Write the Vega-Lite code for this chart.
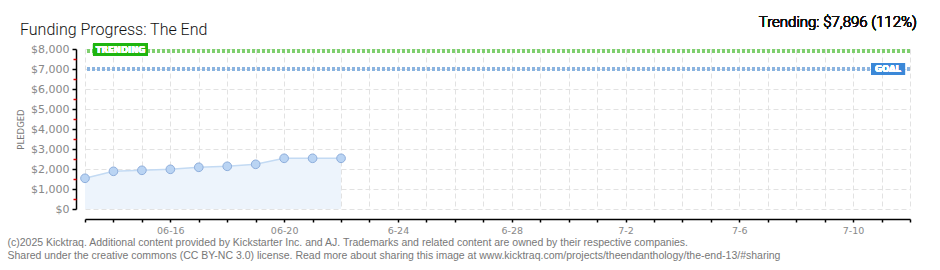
{
  "$schema": "https://vega.github.io/schema/vega-lite/v6.json",
  "width": 825,
  "height": 160,
  "autosize": "none",
  "padding": {"left": 85, "top": 49, "right": 30, "bottom": 61},
  "background": "white",
  "config": {"view": {"stroke": null}, "font": "Liberation Sans"},
  "title": {
    "text": "Funding Progress: The End",
    "anchor": "start",
    "frame": "group",
    "dx": -65,
    "offset": -23,
    "fontSize": 16,
    "font": "Roboto",
    "fontWeight": 300,
    "color": "#111111"
  },
  "datasets": {
    "pledges": [
      {"date": "2025-06-13", "pledged": 1535},
      {"date": "2025-06-14", "pledged": 1885},
      {"date": "2025-06-15", "pledged": 1935},
      {"date": "2025-06-16", "pledged": 1985},
      {"date": "2025-06-17", "pledged": 2085},
      {"date": "2025-06-18", "pledged": 2135},
      {"date": "2025-06-19", "pledged": 2235},
      {"date": "2025-06-20", "pledged": 2535},
      {"date": "2025-06-21", "pledged": 2535},
      {"date": "2025-06-22", "pledged": 2535}
    ]
  },
  "data": {"name": "pledges"},
  "layer": [
    {
      "mark": {"type": "area", "color": "#edf4fc", "opacity": 1, "line": {"color": "#c3daf3", "strokeWidth": 1.5}},
      "encoding": {
        "x": {
          "field": "date", "type": "temporal",
          "scale": {"type": "utc", "domain": [{"year": 2025, "month": 6, "date": 13, "utc": true}, {"year": 2025, "month": 7, "date": 12, "utc": true}]},
          "axis": {
            "tickCount": {"interval": "day", "step": 1},
            "offset": 10,
            "domainColor": "#000000",
            "domainWidth": 1.5,
            "tickColor": "#000000",
            "tickWidth": 1.5,
            "tickSize": 3,
            "labelPadding": 3,
            "labelColor": "#888888",
            "labelFont": "DejaVu Sans",
            "labelFontSize": 9.5,
            "labelOverlap": false,
            "labelFlush": false,
            "labelExpr": "(round((datum.value - 1749772800000) / 86400000) % 4 == 3) ? utcFormat(datum.value, datum.value < 1750500000000 ? '%m-%d' : '%-m-%-d') : ''",
            "grid": true,
            "gridColor": "#e2e2e2",
            "gridDash": [5, 3],
            "title": ["(c)2025 Kicktraq. Additional content provided by Kickstarter Inc. and AJ. Trademarks and related content are owned by their respective companies.", "Shared under the creative commons (CC BY-NC 3.0) license. Read more about sharing this image at www.kicktraq.com/projects/theendanthology/the-end-13/#sharing"],
            "titleX": -78,
            "titleY": 26,
            "titleAlign": "left",
            "titleBaseline": "alphabetic",
            "titleAnchor": "start",
            "titleFontSize": 10.5,
            "titleFontWeight": "normal",
            "titleColor": "#777777",
            "titleLineHeight": 13
          }
        },
        "y": {
          "field": "pledged", "type": "quantitative",
          "scale": {"domain": [0, 8000], "nice": false},
          "axis": {
            "values": [0, 1000, 2000, 3000, 4000, 5000, 6000, 7000, 8000],
            "format": "$,.0f",
            "orient": "left",
            "offset": 9,
            "domainColor": "#000000",
            "domainWidth": 1.5,
            "tickColor": "#000000",
            "tickWidth": 1.5,
            "tickSize": 4,
            "labelPadding": 3,
            "labelOverlap": false,
            "labelColor": "#888888",
            "labelFont": "DejaVu Sans",
            "labelFontSize": 11,
            "grid": true,
            "gridColor": "#e2e2e2",
            "gridDash": [5, 3],
            "title": "PLEDGED",
            "titleX": -56,
            "titleY": 80,
            "titleAngle": -90,
            "titleAlign": "center",
            "titleBaseline": "middle",
            "titleFont": "DejaVu Sans",
            "titleFontSize": 8.5,
            "titleFontWeight": "normal",
            "titleColor": "#777777"
          }
        }
      }
    },
    {
      "mark": {"type": "point", "filled": true, "size": 75, "fill": "#bad4f3", "stroke": "#8eaedc", "strokeWidth": 1, "opacity": 1},
      "encoding": {
        "x": {"field": "date", "type": "temporal"},
        "y": {"field": "pledged", "type": "quantitative", "scale": {"domain": [0, 8000], "nice": false}, "axis": null}
      }
    },
    {
      "mark": {"type": "rule", "color": "#7fcf6e", "strokeWidth": 3, "strokeDash": [3, 2]},
      "encoding": {"y": {"datum": 7896, "type": "quantitative", "scale": {"domain": [0, 8000], "nice": false}, "axis": null}}
    },
    {
      "mark": {"type": "rule", "color": "#8ab3e0", "strokeWidth": 3, "strokeDash": [3, 2]},
      "encoding": {"y": {"datum": 7000, "type": "quantitative", "scale": {"domain": [0, 8000], "nice": false}, "axis": null}}
    },
    {
      "mark": {"type": "rule", "color": "#1fb510", "strokeWidth": 12, "strokeCap": "butt", "yOffset": -1.5},
      "encoding": {
        "x": {"datum": {"year": 2025, "month": 6, "date": 13, "hours": 6, "minutes": 44, "utc": true}, "type": "temporal"},
        "x2": {"datum": {"year": 2025, "month": 6, "date": 15, "hours": 5, "minutes": 9, "utc": true}},
        "y": {"datum": 7896, "type": "quantitative", "scale": {"domain": [0, 8000], "nice": false}, "axis": null}
      }
    },
    {
      "mark": {"type": "text", "text": "TRENDING", "color": "#ffffff", "font": "DejaVu Sans", "fontSize": 8.5, "fontWeight": "bold", "align": "center", "baseline": "middle", "dy": -1.5},
      "encoding": {
        "x": {"datum": {"year": 2025, "month": 6, "date": 14, "hours": 5, "minutes": 57, "utc": true}, "type": "temporal"},
        "y": {"datum": 7896, "type": "quantitative", "scale": {"domain": [0, 8000], "nice": false}, "axis": null}
      }
    },
    {
      "mark": {"type": "rule", "color": "#3b88d8", "strokeWidth": 12, "strokeCap": "butt"},
      "encoding": {
        "x": {"datum": {"year": 2025, "month": 7, "date": 10, "hours": 15, "minutes": 7, "utc": true}, "type": "temporal"},
        "x2": {"datum": {"year": 2025, "month": 7, "date": 11, "hours": 19, "minutes": 48, "utc": true}},
        "y": {"datum": 7000, "type": "quantitative", "scale": {"domain": [0, 8000], "nice": false}, "axis": null}
      }
    },
    {
      "mark": {"type": "text", "text": "GOAL", "color": "#ffffff", "font": "DejaVu Sans", "fontSize": 8.5, "fontWeight": "bold", "align": "center", "baseline": "middle"},
      "encoding": {
        "x": {"datum": {"year": 2025, "month": 7, "date": 11, "hours": 5, "minutes": 27, "utc": true}, "type": "temporal"},
        "y": {"datum": 7000, "type": "quantitative", "scale": {"domain": [0, 8000], "nice": false}, "axis": null}
      }
    },
    {
      "mark": {"type": "text", "text": "Trending: $7,896 (112%)", "color": "#111111", "font": "Roboto", "fontWeight": 300, "fontSize": 15, "align": "right", "baseline": "alphabetic", "dx": 7, "dy": -22},
      "encoding": {
        "x": {"datum": {"year": 2025, "month": 7, "date": 12, "utc": true}, "type": "temporal"},
        "y": {"datum": 8000, "type": "quantitative", "scale": {"domain": [0, 8000], "nice": false}, "axis": null}
      }
    },
    {
      "mark": {"type": "point", "opacity": 0},
      "encoding": {
        "x": {"field": "date", "type": "temporal"},
        "y": {
          "field": "pledged", "type": "quantitative",
          "scale": {"domain": [0, 8000], "nice": false},
          "axis": {
            "orient": "left",
            "values": [500, 1500, 2500, 3500, 4500, 5500, 6500, 7500],
            "offset": 9,
            "domain": false,
            "labels": false,
            "grid": false,
            "tickColor": "#e00000",
            "tickWidth": 1.5,
            "tickSize": 3,
            "title": null
          }
        }
      }
    }
  ],
  "resolve": {"scale": {"y": "independent"}}
}
